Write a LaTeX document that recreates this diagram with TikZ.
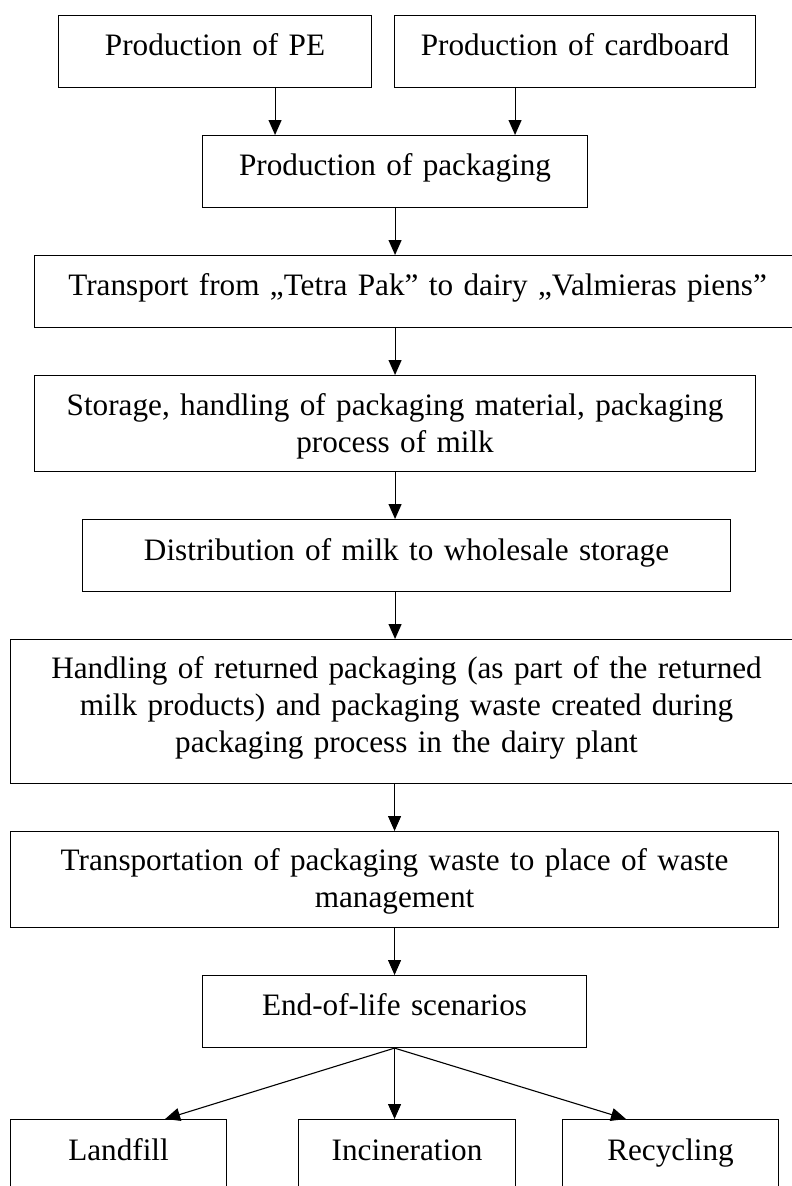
\documentclass[tikz,border=0pt]{standalone}
\usepackage{fontspec}
\setmainfont{Liberation Serif}
\usetikzlibrary{arrows.meta,calc}
\tikzset{
  box/.style={draw, line width=1.1pt, inner sep=0pt, anchor=north west},
  txt/.style={anchor=base, align=center, inner sep=0pt, font=\fontsize{31.2}{37}\selectfont},
  arr/.style={line width=1.1pt, -{Triangle[length=15pt,width=13pt]}},
}
\begin{document}
\begin{tikzpicture}[x=1pt,y=-1pt]
\useasboundingbox (0,0) rectangle (792,1186);
\fill[white] (0,0) rectangle (792,1186);
\clip (0,0) rectangle (792,1186);

% boxes
\node[box, minimum width=313pt, minimum height=72pt] (pe) at (58,15) {};
\node[box, minimum width=361pt, minimum height=72pt] (cb) at (394,15) {};
\node[box, minimum width=385pt, minimum height=72pt] (pack) at (202,135) {};
\node[box, minimum width=766pt, minimum height=72pt] (tr) at (34,255) {};
\node[box, minimum width=721pt, minimum height=96pt] (st) at (34,375) {};
\node[box, minimum width=648pt, minimum height=72pt] (dist) at (82,519) {};
\node[box, minimum width=792pt, minimum height=144pt] (hand) at (10,639) {};
\node[box, minimum width=768pt, minimum height=96pt] (tw) at (10,831) {};
\node[box, minimum width=384pt, minimum height=72pt] (eol) at (202,975) {};
\node[box, minimum width=216pt, minimum height=100pt] (lf) at (10,1119) {};
\node[box, minimum width=217pt, minimum height=100pt] (inc) at (298,1119) {};
\node[box, minimum width=216pt, minimum height=100pt] (rec) at (562,1119) {};

% texts
\node[txt, text width=300pt] (tpe) at ($(pe.north)+(0,40)$) {Production of PE};
\node[txt, text width=350pt] (tcb) at ($(cb.north)+(0,40)$) {Production of cardboard};
\node[txt, text width=370pt] (tpack) at ($(pack.north)+(0,40)$) {Production of packaging};
\node[txt, text width=750pt] (ttr) at ($(tr.north)+(0,40)$) {Transport from „Tetra Pak” to dairy „Valmieras piens”};
\node[txt, text width=710pt] (tst) at ($(st.north)+(0,40)$) {Storage, handling of packaging material, packaging\\process of milk};
\node[txt, text width=630pt] (tdist) at ($(dist.north)+(0,41)$) {Distribution of milk to wholesale storage};
\node[txt, text width=780pt] (thand) at ($(hand.north)+(0,39)$) {Handling of returned packaging (as part of the returned\\milk products) and packaging waste created during\\packaging process in the dairy plant};
\node[txt, text width=750pt] (ttw) at ($(tw.north)+(0,39)$) {Transportation of packaging waste to place of waste\\management};
\node[txt, text width=370pt] (teol) at ($(eol.north)+(0,40)$) {End-of-life scenarios};
\node[txt, text width=200pt] (tlf) at ($(lf.north)+(0,41)$) {Landfill};
\node[txt, text width=200pt] (tinc) at ($(inc.north)+(0,41)$) {Incineration};
\node[txt, text width=200pt] (trec) at ($(rec.north)+(0,41)$) {Recycling};

% connectors
\coordinate (a1) at ($(pack.north)+(-120,0)$);
\coordinate (a2) at ($(pack.north)+(120,0)$);
\draw[arr] (pe.south -| a1) -- (a1);
\draw[arr] (cb.south -| a2) -- (a2);
\draw[arr] (pack.south) -- (pack.south |- tr.north);
\draw[arr] (tr.south -| st.north) -- (st.north);
\draw[arr] (st.south) -- (st.south |- dist.north);
\draw[arr] (dist.south -| st.south) -- (st.south |- hand.north);
\draw[arr] (hand.south -| tw.north) -- (tw.north);
\draw[arr] (tw.south) -- (tw.south |- eol.north);
\draw[arr] (eol.south) -- (eol.south |- inc.north);
\coordinate (lfin) at ($(lf.north east)+(-62,0)$);
\coordinate (recin) at ($(rec.north west)+(64,0)$);
\draw[arr] (eol.south) -- (lfin);
\draw[arr] (eol.south) -- (recin);
\end{tikzpicture}
\end{document}
